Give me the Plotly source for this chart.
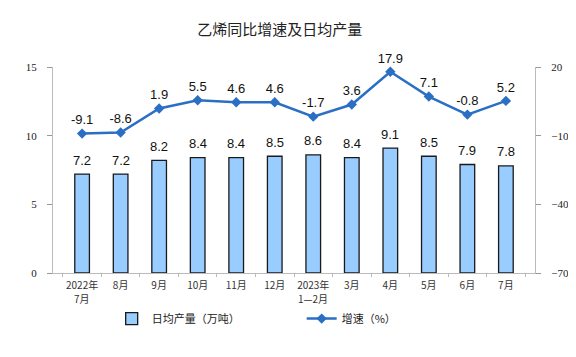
import plotly.graph_objects as go

categories = ["2022年7月", "8月", "9月", "10月", "11月", "12月", "2023年1—2月", "3月", "4月", "5月", "6月", "7月"]
tick_line1 = ["2022年", "8月", "9月", "10月", "11月", "12月", "2023年", "3月", "4月", "5月", "6月", "7月"]
tick_line2 = ["7月", "", "", "", "", "", "1—2月", "", "", "", "", ""]
output = [7.2, 7.2, 8.2, 8.4, 8.4, 8.5, 8.6, 8.4, 9.1, 8.5, 7.9, 7.8]
growth = [-9.1, -8.6, 1.9, 5.5, 4.6, 4.6, -1.7, 3.6, 17.9, 7.1, -0.8, 5.2]
left_ticks = [0, 5, 10, 15]
right_ticks = [-70, -40, -10, 20]

LINE = "#2B6FC4"
CJK = "Noto Sans CJK SC"
SERIF = "Liberation Serif"
SANS = "Liberation Sans"

fig = go.Figure()
fig.add_trace(go.Bar(
    x=categories, y=output, name="日均产量（万吨）",
    marker=dict(color="#99CCFF", line=dict(color="#1A1A1A", width=1.3)),
    width=0.38,
))
fig.add_trace(go.Scatter(
    x=categories, y=growth, name="增速（%）", yaxis="y2",
    mode="lines+markers+text",
    line=dict(color=LINE, width=2.5),
    marker=dict(symbol="diamond", size=8, color=LINE),
    text=[f"{v:.1f}" for v in growth], textposition="top center",
    textfont=dict(family=SANS, size=13, color="#111"),
    cliponaxis=False,
))
for c, v in zip(categories, output):
    fig.add_annotation(x=c, y=v, xref="x", yref="y", text=f"{v:.1f}", showarrow=False,
                       yanchor="middle", yshift=14, font=dict(family=SANS, size=13, color="#111"))
for c, t in zip(categories, tick_line2):
    if t:
        fig.add_annotation(x=c, y=0, xref="x", yref="y", text=t, showarrow=False,
                           yanchor="middle", yshift=-25, font=dict(family=CJK, size=10, color="#333"))

fig.update_layout(
    width=576, height=349,
    margin=dict(l=45, r=49, t=59, b=84, autoexpand=False),
    paper_bgcolor="white", plot_bgcolor="white",
    title=dict(text="乙烯同比增速及日均产量", x=0.472, xanchor="center", y=0.937, yanchor="middle",
               font=dict(family=CJK, size=15, color="#222")),
    showlegend=True,
    legend=dict(orientation="h", xref="container", x=0.18, xanchor="left", yref="container", y=0.11,
                yanchor="middle", font=dict(family=CJK, size=11, color="#222"),
                entrywidth=145, entrywidthmode="pixels", itemwidth=30, bgcolor="rgba(0,0,0,0)"),
    xaxis=dict(tickvals=categories, ticktext=tick_line1,
               tickfont=dict(family=CJK, size=10, color="#333"), tickangle=0, automargin=False,
               showline=True, linecolor="#BBBBBB", ticklabelstandoff=3,
               ticks="outside", tickson="boundaries", ticklen=3, tickcolor="#BBBBBB", showgrid=False),
    yaxis=dict(range=[0, 15], tickvals=left_ticks, showline=True, linecolor="#BBBBBB", ticks="outside",
               ticklen=5, tickcolor="#999999", showgrid=False, zeroline=False, automargin=False,
               tickfont=dict(family=SERIF, size=11, color="#222"), ticklabelstandoff=8),
    yaxis2=dict(range=[-70, 20], tickvals=right_ticks, overlaying="y", side="right", showline=True,
                linecolor="#BBBBBB", ticks="outside", ticklen=5, tickcolor="#999999", showgrid=False,
                zeroline=False, automargin=False, tickfont=dict(family=SERIF, size=11, color="#222"),
                ticklabelstandoff=8),
)

fig.write_html("out.html")
